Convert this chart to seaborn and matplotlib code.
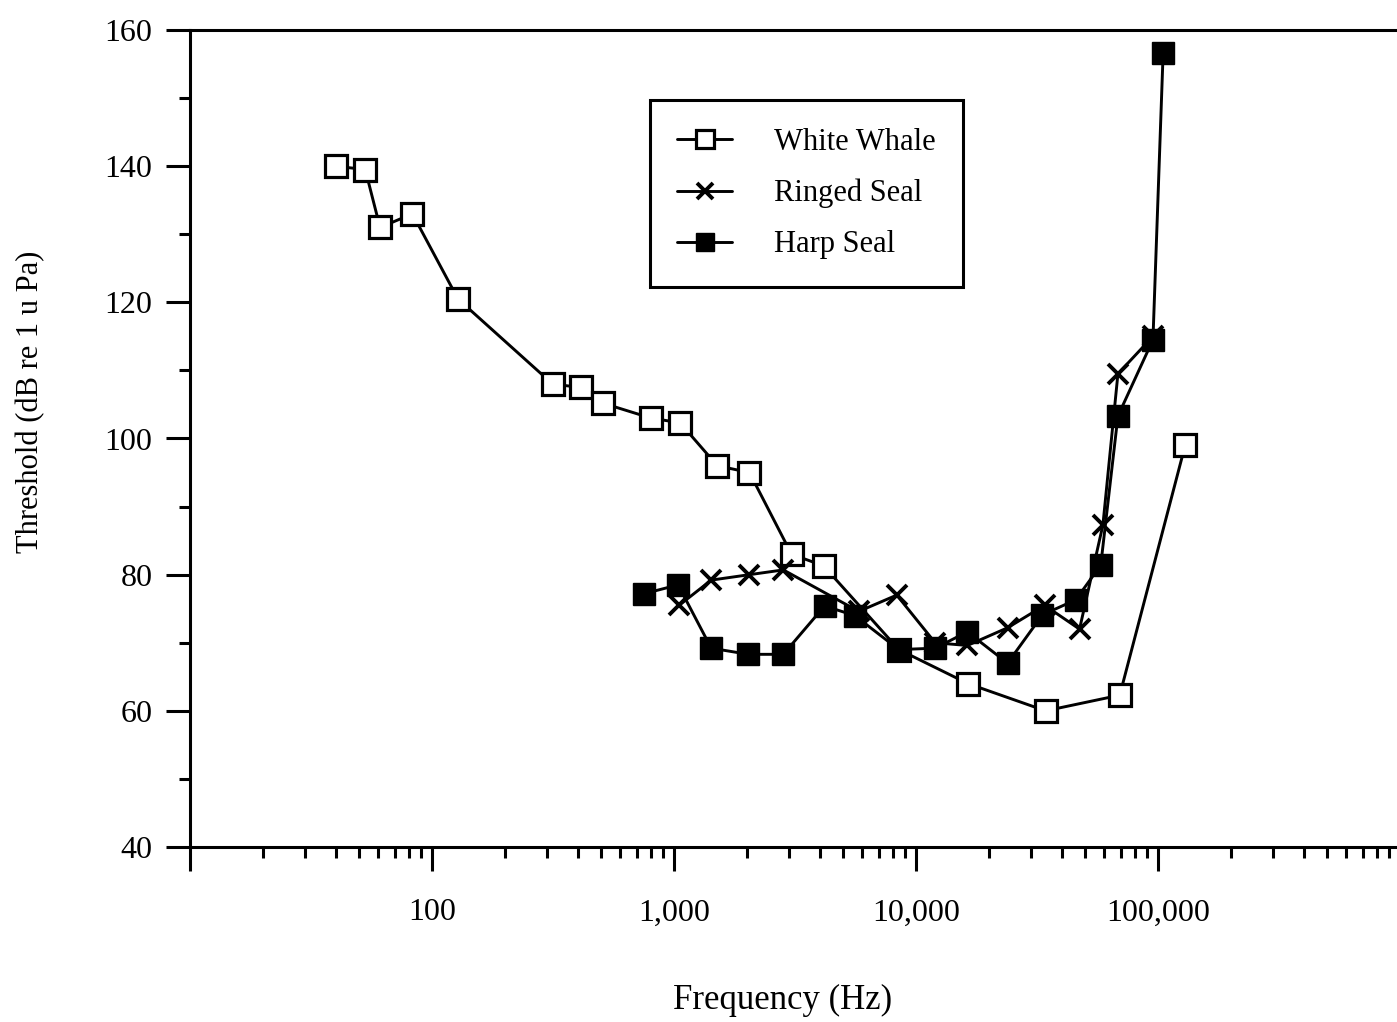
import numpy as np
import pandas as pd
import matplotlib
matplotlib.use("Agg")
import matplotlib.pyplot as plt
from matplotlib.ticker import FixedLocator, FuncFormatter
import seaborn as sns

# ==========================================
# DATA
# ==========================================
whale_freq = [40, 53, 61, 83, 128, 315, 411, 507, 803, 1060, 1510, 2050,
              3060, 4150, 8490, 16400, 34300, 69500, 129500]
whale_db = [140, 139.5, 131, 133, 120.5, 108, 107.5, 105.2, 103, 102.3, 96, 95,
            83, 81.3, 69, 64, 60, 62.3, 99]

ringed_freq = [1050, 1425, 2050, 2830, 5800, 8330, 12000, 16300, 23900,
               34000, 47400, 59200, 68300, 95300]
ringed_db = [75.5, 79.2, 80, 80.7, 74.6, 77, 70, 69.6, 72.2, 75.5, 72, 87.3,
             109.5, 115]

harp_freq = [751, 1040, 1425, 2030, 2830, 4190, 5580, 8490, 12000, 16300,
             23900, 33300, 45700, 58000, 68300, 95300, 105000]
harp_db = [77.2, 78.5, 69.2, 68.3, 68.3, 75.4, 74, 69, 69.2, 71.6, 67, 74.1,
           76.3, 81.4, 103.3, 114.5, 156.6]

y_ticks = [40, 60, 80, 100, 120, 140, 160]
x_major = [10, 100, 1000, 10000, 100000, 1000000]

# ==========================================
# STYLE
# ==========================================
sns.set_theme(style="ticks")
plt.rcParams['font.family'] = ['Liberation Serif', 'DejaVu Serif']
plt.rcParams['axes.linewidth'] = 2.2
plt.rcParams['text.color'] = 'black'

fig = plt.figure(figsize=(13.97, 10.22), dpi=100)
ax = fig.add_axes([190 / 1397, 1 - 847 / 1022, 1210 / 1397, 817 / 1022])

lw = 2.1
sns.lineplot(x=whale_freq, y=whale_db, ax=ax, color='black', linewidth=lw,
             marker='s', markersize=16, markerfacecolor='white',
             markeredgecolor='black', markeredgewidth=2.3, estimator=None,
             sort=False, label='White Whale')
sns.lineplot(x=ringed_freq, y=ringed_db, ax=ax, color='black', linewidth=lw,
             marker='x', markersize=15, markeredgecolor='black',
             markeredgewidth=2.8, estimator=None, sort=False,
             label='Ringed Seal')
sns.lineplot(x=harp_freq, y=harp_db, ax=ax, color='black', linewidth=lw,
             marker='s', markersize=16.5, markerfacecolor='black',
             markeredgecolor='black', markeredgewidth=1, estimator=None,
             sort=False, label='Harp Seal')

# ==========================================
# AXES
# ==========================================
ax.set_xscale('log')
ax.set_xlim(10, 1000000)
ax.set_ylim(40, 160)

ax.xaxis.set_major_locator(FixedLocator(x_major))
ax.xaxis.set_minor_locator(FixedLocator(
    [m * d for d in [10, 100, 1000, 10000, 100000] for m in range(2, 10)]))
ax.xaxis.set_major_formatter(FuncFormatter(
    lambda v, p: '' if v in (10, 1000000) else f"{int(v):,}"))
ax.xaxis.set_minor_formatter(FuncFormatter(lambda v, p: ''))

ax.yaxis.set_major_locator(FixedLocator(y_ticks))
ax.yaxis.set_minor_locator(FixedLocator([50, 70, 90, 110, 130, 150]))

ax.tick_params(axis='both', which='major', length=17, width=2.2,
               labelsize=23, color='black', labelcolor='black')
ax.tick_params(axis='both', which='minor', length=8, width=2.2, color='black')
ax.tick_params(axis='x', which='major', pad=20)
ax.tick_params(axis='y', which='major', pad=10)

for side in ['left', 'top', 'bottom']:
    ax.spines[side].set_color('black')
ax.spines['right'].set_visible(False)

ax.set_xlabel('Frequency (Hz)', fontsize=25, color='black')
ax.xaxis.set_label_coords(0.49, -0.168)
ax.set_ylabel('Threshold (dB re 1 u Pa)', fontsize=22, color='black')
ax.yaxis.set_label_coords(-0.12, 0.545)

leg = ax.legend(loc='upper left', bbox_to_anchor=(0.380, 0.914), fontsize=22,
                frameon=True, fancybox=False, borderpad=0.9, labelspacing=0.72,
                handlelength=1.8, handletextpad=1.35, borderaxespad=0,
                markerscale=0.8)
leg.get_frame().set_edgecolor('black')
leg.get_frame().set_linewidth(2.2)
leg.get_frame().set_alpha(1)
for t in leg.get_texts():
    t.set_color('black')

fig.savefig('out.png', dpi=100)
